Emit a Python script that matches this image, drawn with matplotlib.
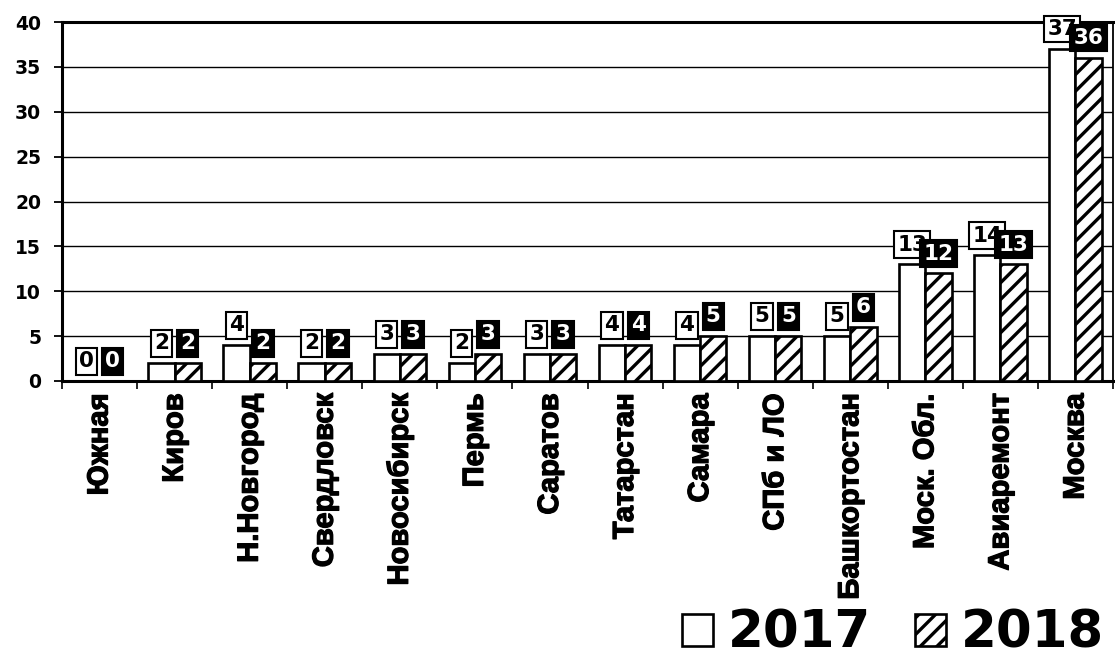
import numpy as np
import matplotlib
matplotlib.use("Agg")
import matplotlib.pyplot as plt
import matplotlib.patheffects as pe

# data
regions = ["Южная", "Киров", "Н.Новгород", "Свердловск", "Новосибирск", "Пермь",
           "Саратов", "Татарстан", "Самара", "СПб и ЛО", "Башкортостан",
           "Моск. Обл.", "Авиаремонт", "Москва"]
v2017 = [0, 2, 4, 2, 3, 2, 3, 4, 4, 5, 5, 13, 14, 37]
v2018 = [0, 2, 2, 2, 3, 3, 3, 4, 5, 5, 6, 12, 13, 36]
years = ["2017", "2018"]
yticks = np.arange(0, 41, 5)

plt.rcParams['hatch.linewidth'] = 2.4
plt.rcParams['hatch.color'] = "black"

fig = plt.figure(figsize=(11.15, 6.6), dpi=100)
ax = fig.add_axes([62 / 1115, 1 - 381 / 660, 1051 / 1115, 359 / 660])

x = np.arange(len(regions))
w = 0.35
b1 = ax.bar(x - w / 2, v2017, w, color="white", edgecolor="black", linewidth=1.9,
            label=years[0], zorder=3)
b2 = ax.bar(x + w / 2, v2018, w, color="white", edgecolor="black", linewidth=1.9,
            hatch="//", label=years[1], zorder=3)

# value labels in boxes (white box for 2017, black box for 2018)
for xs, vals, fc, tc in [(x - w / 2, v2017, "white", "black"),
                         (x + w / 2, v2018, "black", "white")]:
    for xi, v in zip(xs, vals):
        ax.annotate(str(v), (xi, v), xytext=(0, 7), textcoords="offset points",
                    ha="center", va="bottom", fontsize=15.5, fontweight="bold",
                    family="DejaVu Sans", color=tc, zorder=5,
                    bbox=dict(boxstyle="square,pad=0.15", fc=fc, ec="black", lw=1.5))

ax.set_xlim(-0.5, len(regions) - 0.5)
ax.set_ylim(0, 40)
ax.set_yticks(yticks)
ax.set_yticklabels([str(t) for t in yticks], fontsize=13.5, fontweight="bold",
                   family="DejaVu Sans")
ax.yaxis.grid(True, color="black", linewidth=1.0, zorder=0)
ax.set_axisbelow(True)
ax.tick_params(axis="y", length=6, width=1.3, pad=9)

ax.set_xticks(x)
ax.set_xticklabels(regions, rotation=90, fontsize=21, fontweight="bold",
                   family="Liberation Sans", va="top")
for lbl in ax.get_xticklabels():
    lbl.set_path_effects([pe.withStroke(linewidth=0.9, foreground="black")])
ax.set_xticks(np.arange(-0.5, len(regions), 1), minor=True)
ax.tick_params(axis="x", which="major", length=0, pad=9)
ax.tick_params(axis="x", which="minor", length=6, width=1.2)

for side in ["left", "bottom", "top"]:
    ax.spines[side].set_linewidth(2.2)
ax.spines["right"].set_linewidth(1.3)

fig.legend(handles=[b1, b2], labels=years, loc="center",
           bbox_to_anchor=(893 / 1115, 1 - 634 / 660), ncol=2, frameon=False,
           prop={"family": "DejaVu Sans", "weight": "bold", "size": 37},
           handlelength=0.6, handleheight=0.6, handletextpad=0.3,
           columnspacing=0.85, borderpad=0)

fig.savefig("out.png", dpi=100)
